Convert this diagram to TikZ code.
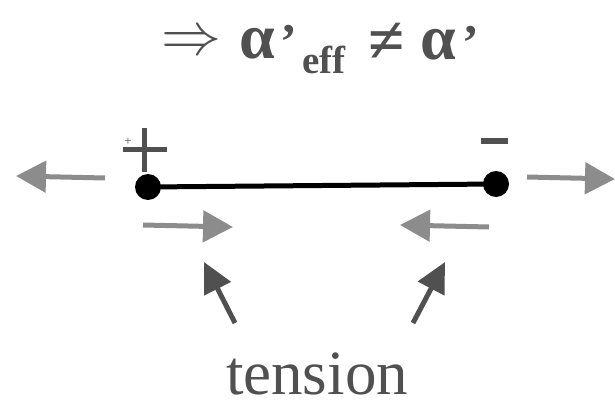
\RequirePackage{fix-cm}
\documentclass[tikz,border=0pt]{standalone}
\usepackage{fontspec}
\setmainfont{Liberation Serif}
\usetikzlibrary{arrows.meta}
\definecolor{dk}{HTML}{505050}
\definecolor{lt}{HTML}{8C8C8C}
\begin{document}
\begin{tikzpicture}[x=1pt,y=-1pt,
  grayarrow/.style={draw=lt, line width=5pt, -{Triangle[length=30pt,width=31pt]}},
  darkarrow/.style={draw=dk, line width=5pt, -{Triangle[length=30pt,width=29pt]}},
  enddot/.style={circle, fill=black, inner sep=0pt, minimum size=26pt},
  titletext/.style={text=dk, inner sep=0pt},
  sign/.style={draw=dk, line width=5pt},
]
\useasboundingbox (0,0) rectangle (615,401);
% title
\node[titletext] (imp) at (191,43) {\fontsize{60}{60}\selectfont$\Rightarrow$};
\node[titletext, anchor=base west] (a1) at (239,59) {\fontsize{64}{64}\selectfont\bfseries α};
\node[titletext, anchor=base west] (p1) at (280,59) {\fontsize{50}{50}\selectfont\bfseries ’};
\node[titletext, anchor=base west] (eff) at (302,74) {\fontsize{39}{39}\selectfont\bfseries eff};
\node[titletext] (neq) at (387,43) {\fontsize{66}{66}\selectfont\bfseries ≠};
\node[titletext, anchor=base west] (a2) at (420,60) {\fontsize{64}{64}\selectfont\bfseries α};
\node[titletext, anchor=base west] (p2) at (462,60) {\fontsize{50}{50}\selectfont\bfseries ’};
% string
\node[enddot] (L) at (148,187) {};
\node[enddot] (R) at (496,184) {};
\draw[line width=5pt] (L.center) -- (R.center);
% signs
\draw[sign] (123,149) -- (167,149);
\draw[sign] (144,128) -- (144,172);
\fill[dk] (481,138) rectangle (508,144);
\node[titletext] (small) at (128,142) {\fontsize{13}{13}\selectfont +};
% gray arrows
\coordinate (lo1) at (105,178); \coordinate (lo2) at (16,176);
\coordinate (li1) at (143,225); \coordinate (li2) at (233,227);
\coordinate (ro1) at (527,177); \coordinate (ro2) at (615,179);
\coordinate (ri1) at (489,227); \coordinate (ri2) at (400,225);
\draw[grayarrow] (lo1) -- (lo2);
\draw[grayarrow] (li1) -- (li2);
\draw[grayarrow] (ro1) -- (ro2);
\draw[grayarrow] (ri1) -- (ri2);
% tension
\node[titletext, anchor=base] (tension) at (317,394) {\fontsize{63}{63}\selectfont tension};
\coordinate (t1) at (235,323); \coordinate (t1h) at (204,262);
\coordinate (t2) at (413,323); \coordinate (t2h) at (445,262);
\draw[darkarrow] (t1) -- (t1h);
\draw[darkarrow] (t2) -- (t2h);
\end{tikzpicture}
\end{document}
